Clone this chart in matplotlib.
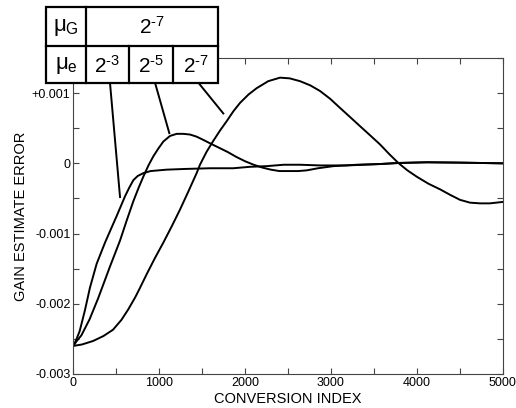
import numpy as np
import matplotlib.pyplot as plt
from matplotlib.patches import Rectangle

plt.rcParams['font.family'] = ['Liberation Sans', 'DejaVu Sans']
plt.rcParams['mathtext.fontset'] = 'custom'
plt.rcParams['mathtext.rm'] = 'Liberation Sans'
plt.rcParams['mathtext.it'] = 'Liberation Sans'

# curves
# mu_e = 2^-3
x_a = [0, 35, 74, 134, 194, 272, 369, 408, 505, 602, 650, 699, 750, 815, 900, 1087,
       1300, 1592, 1863, 2050, 2252, 2450, 2640, 2873, 3183, 3571, 3785, 4115, 4500, 5000]
y_a = [-0.00260, -0.00251, -0.00239, -0.00210, -0.00177, -0.00143, -0.00113, -0.00102,
       -0.00075, -0.00047, -0.00035, -0.00024, -0.00018, -0.00014, -0.00011, -0.00009,
       -0.00008, -0.00007, -0.00007, -0.00005, -0.00004, -0.00002, -0.00002, -0.00003,
       -0.00003, -0.00001, 0.000005, 0.000015, 0.00001, 0.0]

# mu_e = 2^-5
x_b = [0, 40, 94, 190, 290, 427, 544, 620, 699, 760, 815, 875, 932, 990, 1048, 1126,
       1204, 1281, 1359, 1436, 1520, 1600, 1700, 1800, 1900, 2000, 2100, 2200, 2300,
       2400, 2500, 2620, 2718, 2850, 3028, 3300, 3571, 3785, 4115, 4500, 5000]
y_b = [-0.00260, -0.00253, -0.00245, -0.00222, -0.00192, -0.00147, -0.00110, -0.00082,
       -0.00054, -0.00035, -0.00019, -0.00003, 0.00010, 0.00021, 0.00031, 0.00039,
       0.00042, 0.00042, 0.00041, 0.00038, 0.00033, 0.00028, 0.00022, 0.00016, 0.00009,
       0.00003, -0.00002, -0.00006, -0.00009, -0.00011, -0.00011, -0.00011, -0.00010,
       -0.00007, -0.00004, -0.00002, -0.00001, 0.000005, 0.000015, 0.00001, 0.0]

# mu_e = 2^-7
x_c = [0, 100, 230, 350, 462, 560, 640, 720, 770, 854, 950, 1048, 1145, 1242, 1340,
       1436, 1475, 1550, 1630, 1710, 1786, 1863, 1941, 2040, 2135, 2270, 2407, 2520,
       2640, 2760, 2873, 2990, 3105, 3222, 3338, 3455, 3571, 3680, 3785, 3890, 3999,
       4135, 4270, 4390, 4503, 4620, 4736, 4850, 5000]
y_c = [-0.00260, -0.00258, -0.00253, -0.00246, -0.00237, -0.00223, -0.00208, -0.00191,
       -0.00179, -0.00158, -0.00135, -0.00113, -0.00090, -0.00066, -0.00040, -0.00014,
       -0.00002, 0.00016, 0.00032, 0.00047, 0.00060, 0.00074, 0.00086, 0.00098, 0.00107,
       0.00117, 0.00122, 0.00121, 0.00117, 0.00111, 0.00103, 0.00092, 0.00079, 0.00066,
       0.00053, 0.00040, 0.00027, 0.00013, 0.000005, -0.00010, -0.00019, -0.00029,
       -0.00037, -0.00045, -0.00052, -0.00056, -0.00057, -0.00057, -0.00055]

x_ticks = np.arange(0, 5001, 500)
x_labels = ['0', '', '1000', '', '2000', '', '3000', '', '4000', '', '5000']
y_ticks = np.arange(-0.003, 0.00151, 0.0005)
y_labels = ['-0.003', '', '-0.002', '', '-0.001', '', '0', '', '+0.001', '']

W, H = 516, 408
fig = plt.figure(figsize=(W / 100, H / 100), dpi=100)
ax = fig.add_axes([73.3 / W, 1 - 374 / H, (502.7 - 73.3) / W, (374 - 58) / H])

for xs, ys in [(x_a, y_a), (x_b, y_b), (x_c, y_c)]:
    ax.plot(xs, ys, color='black', lw=1.4, solid_joinstyle='round')

ax.set_xlim(0, 5000)
ax.set_ylim(-0.003, 0.0015)
ax.set_xticks(x_ticks)
ax.set_xticklabels(x_labels)
ax.set_yticks(y_ticks)
ax.set_yticklabels(y_labels)
ax.tick_params(direction='in', length=4, width=0.8, top=True, right=True,
               labelsize=9, pad=2, color='#444444')
for s in ax.spines.values():
    s.set_linewidth(0.8)
    s.set_color('#444444')
ax.set_xlabel('CONVERSION INDEX', fontsize=10.5, labelpad=2)
ax.set_ylabel('GAIN ESTIMATE ERROR', fontsize=10.5, labelpad=3)

# leader lines from table to curves
leaders = [((427, 0.00115), (544, -0.00048)),
           ((951, 0.00115), (1118, 0.00043)),
           ((1455, 0.00115), (1747, 0.00071))]
for (x0, y0), (x1, y1) in leaders:
    ax.plot([x0, x1], [y0, y1], color='black', lw=1.4, clip_on=False)

# table box (pixel edges)
cols = [46, 85.7, 129.3, 173.3, 218]
rows = [6.7, 45.7, 83]
def fx(px): return px / W
def fy(py): return 1 - py / H
fig.add_artist(Rectangle((fx(cols[0]), fy(rows[2])), fx(cols[4]) - fx(cols[0]),
                         fy(rows[0]) - fy(rows[2]), transform=fig.transFigure,
                         facecolor='white', edgecolor='black', lw=1.6, zorder=5))
fig.add_artist(plt.Line2D([fx(cols[0]), fx(cols[4])], [fy(rows[1])] * 2,
                          transform=fig.transFigure, color='black', lw=1.6, zorder=6))
fig.add_artist(plt.Line2D([fx(cols[1])] * 2, [fy(rows[0]), fy(rows[2])],
                          transform=fig.transFigure, color='black', lw=1.6, zorder=6))
for c in cols[2:4]:
    fig.add_artist(plt.Line2D([fx(c)] * 2, [fy(rows[1]), fy(rows[2])],
                              transform=fig.transFigure, color='black', lw=1.6, zorder=6))

def cell_text(c0, c1, r, s, size=15):
    fig.text(fx((cols[c0] + cols[c1]) / 2), fy((rows[r] + rows[r + 1]) / 2 + 1), s,
             ha='center', va='center', fontsize=size, zorder=7)

cell_text(0, 1, 0, r'$\mu_{\mathrm{G}}$', 16)
cell_text(1, 4, 0, r'$2^{\text{-}7}$')
cell_text(0, 1, 1, r'$\mu_{\mathrm{e}}$', 16)
cell_text(1, 2, 1, r'$2^{\text{-}3}$')
cell_text(2, 3, 1, r'$2^{\text{-}5}$')
cell_text(3, 4, 1, r'$2^{\text{-}7}$')

fig.savefig('out.png', dpi=100)
